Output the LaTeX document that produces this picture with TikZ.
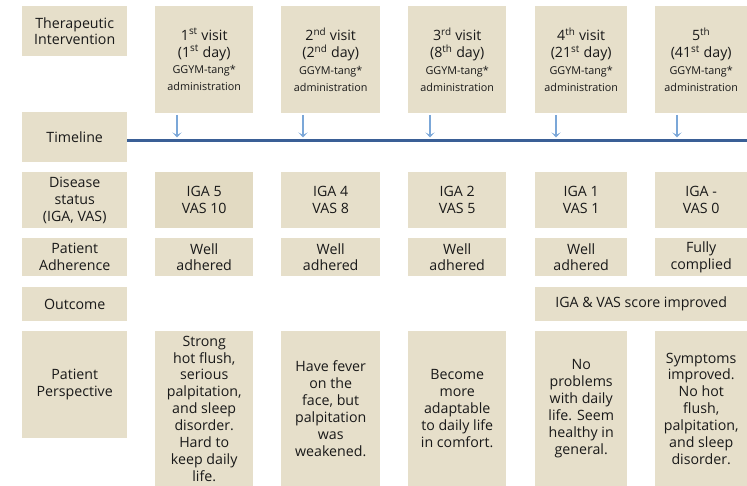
\documentclass[tikz,border=0pt]{standalone}
\usepackage{fontspec}
\setmainfont{Open Sans}
\usetikzlibrary{arrows.meta}
\definecolor{boxc}{HTML}{E6DFCA}
\definecolor{boxd}{HTML}{E2DAC2}
\definecolor{linec}{HTML}{3A5F96}
\definecolor{arrc}{HTML}{7BA7D8}
\newcommand{\sm}[1]{{\fontsize{10.8bp}{13.5bp}\selectfont #1}}
\begin{document}
\begin{tikzpicture}[x=1bp,y=-1bp,
  cell/.style={fill=boxc, inner sep=0pt, align=center, anchor=north west,
    font=\fontsize{14.2bp}{16.9bp}\selectfont, text=black!90},
  visitarrow/.style={draw=arrc, line width=1.5bp, -{Stealth[length=5bp,width=9bp,inset=2.5bp]}},
  tline/.style={draw=linec, line width=3bp}]
\useasboundingbox (0,0) rectangle (747,486);
% left labels
\node[cell, minimum width=105bp, minimum height=50bp] (lt) at (22,6) {Therapeutic\\Intervention};
\node[cell, minimum width=105bp, minimum height=50bp] (ll) at (22,112) {Timeline};
\node[cell, minimum width=105bp, minimum height=56bp] (ld) at (22,172) {Disease\\status\\(IGA, VAS)};
\node[cell, minimum width=105bp, minimum height=38bp] (la) at (22,238) {Patient\\Adherence};
\node[cell, minimum width=105bp, minimum height=34bp] (lo) at (22,287) {Outcome};
\node[cell, minimum width=105bp, minimum height=107bp] (lp) at (22,331) {Patient\\Perspective};
% top visit boxes
\node[cell, minimum width=98bp, minimum height=107bp] (v1) at (155,6) {1\textsuperscript{st} visit\\(1\textsuperscript{st} day)\\\sm{GGYM-tang*}\\\sm{administration}};
\node[cell, minimum width=99bp, minimum height=107bp] (v2) at (281,6) {2\textsuperscript{nd} visit\\(2\textsuperscript{nd} day)\\\sm{GGYM-tang*}\\\sm{administration}};
\node[cell, minimum width=98bp, minimum height=107bp] (v3) at (408,6) {3\textsuperscript{rd} visit\\(8\textsuperscript{th} day)\\\sm{GGYM-tang*}\\\sm{administration}};
\node[cell, minimum width=92bp, minimum height=107bp] (v4) at (535,6) {4\textsuperscript{th} visit\\(21\textsuperscript{st} day)\\\sm{GGYM-tang*}\\\sm{administration}};
\node[cell, minimum width=92bp, minimum height=107bp] (v5) at (655,6) {5\textsuperscript{th}\\(41\textsuperscript{st} day)\\\sm{GGYM-tang*}\\\sm{administration}};
% timeline
\coordinate (tend) at (747,141);
\draw[tline] (ll.east |- tend) -- (tend);
\foreach \i/\x in {1/177,2/303,3/430,4/556,5/677}{
  \coordinate (s\i) at (\x,115);
  \coordinate (e\i) at (\x,137.5);
  \draw[visitarrow] (s\i) -- (e\i);
}
% disease status
\node[cell, fill=boxd, minimum width=98bp, minimum height=56bp] (d1) at (155,172) {IGA 5\\VAS 10};
\node[cell, minimum width=99bp, minimum height=56bp] (d2) at (281,172) {IGA 4\\VAS 8};
\node[cell, minimum width=98bp, minimum height=56bp] (d3) at (408,172) {IGA 2\\VAS 5};
\node[cell, minimum width=92bp, minimum height=56bp] (d4) at (535,172) {IGA 1\\VAS 1};
\node[cell, minimum width=92bp, minimum height=56bp] (d5) at (655,172) {IGA -\\VAS 0};
% adherence
\node[cell, minimum width=98bp, minimum height=38bp] (a1) at (155,238) {Well\\adhered};
\node[cell, minimum width=99bp, minimum height=38bp] (a2) at (281,238) {Well\\adhered};
\node[cell, minimum width=98bp, minimum height=38bp] (a3) at (408,238) {Well\\adhered};
\node[cell, minimum width=92bp, minimum height=38bp] (a4) at (535,238) {Well\\adhered};
\node[cell, minimum width=92bp, minimum height=38bp] (a5) at (655,238) {Fully\\complied};
% outcome
\node[cell, minimum width=212bp, minimum height=34bp] (o1) at (535,287) {IGA \& VAS score improved};
% perspective
\node[cell, minimum width=98bp, minimum height=155bp] (p1) at (155,331) {Strong\\hot flush,\\serious\\palpitation,\\and sleep\\disorder.\\Hard to\\keep daily\\life.};
\node[cell, minimum width=99bp, minimum height=155bp] (p2) at (281,331) {Have fever\\on the\\face, but\\palpitation\\was\\weakened.};
\node[cell, minimum width=98bp, minimum height=155bp] (p3) at (408,331) {Become\\more\\adaptable\\to daily life\\in comfort.};
\node[cell, minimum width=92bp, minimum height=155bp] (p4) at (535,331) {No\\problems\\with daily\\life. Seem\\healthy in\\general.};
\node[cell, minimum width=92bp, minimum height=155bp] (p5) at (655,331) {Symptoms\\improved.\\No hot\\flush,\\palpitation,\\and sleep\\disorder.};
\end{tikzpicture}
\end{document}
